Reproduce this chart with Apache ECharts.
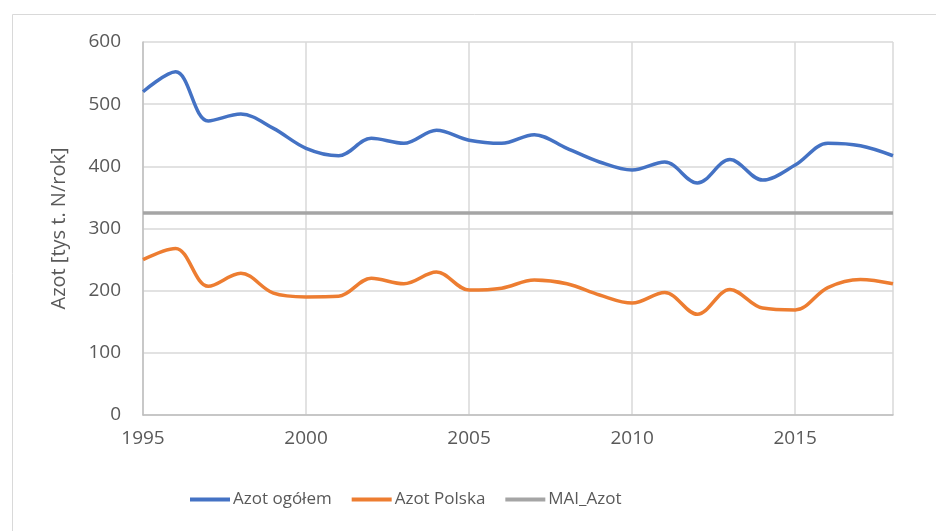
<!DOCTYPE html>
<html>
<head>
<meta charset="utf-8">
<script src="https://cdn.jsdelivr.net/npm/echarts@6/dist/echarts.min.js"></script>
<style>
  html, body { margin: 0; padding: 0; background: #fff; }
  #container { width: 936px; height: 531px; }
</style>
</head>
<body>
<div id="container"></div>
<script>
var years = [1995, 1996, 1997, 1998, 1999, 2000, 2001, 2002, 2003, 2004, 2005, 2006,
             2007, 2008, 2009, 2010, 2011, 2012, 2013, 2014, 2015, 2016, 2017, 2018];
// Azot ogółem
var azotOgolem = [520, 552, 473, 484, 461, 429, 417, 445, 437, 458, 442, 437,
                  451, 429, 407, 394, 407, 373, 411, 378, 402, 437, 433, 417];
// Azot Polska
var azotPolska = [250, 268, 207, 228, 196, 190, 191, 220, 211, 230, 201, 204,
                  217, 211, 193, 180, 197, 162, 202, 172, 169, 205, 218, 211];
// MAI_Azot
var maiAzot = [325, 325, 325, 325, 325, 325, 325, 325, 325, 325, 325, 325,
               325, 325, 325, 325, 325, 325, 325, 325, 325, 325, 325, 325];

var seriesNames = ['Azot ogółem', 'Azot Polska', 'MAI_Azot'];
var seriesColors = ['#4472C4', '#ED7D31', '#A5A5A5'];

function pairs(vals) {
  return years.map(function (y, i) { return [y, vals[i]]; });
}

var dom = document.getElementById('container');
var myChart = echarts.init(dom, null, { renderer: 'canvas' });

var textColor = '#595959';
var fontFam = '"Open Sans", sans-serif';

var option = {
  animation: false,
  color: seriesColors,
  graphic: [{
    type: 'rect',
    left: 10,
    top: 12,
    shape: { width: 940, height: 540 },
    style: { fill: 'none', stroke: '#d9d9d9', lineWidth: 1 },
    silent: true
  }],
  grid: { left: 143, right: 43, top: 42, bottom: 116 },
  legend: {
    bottom: 18,
    left: 185,
    icon: 'rect',
    itemWidth: 40,
    itemHeight: 4,
    itemGap: 20,
    textStyle: { color: textColor, fontSize: 17, fontFamily: fontFam, padding: [0, 0, 0, -2] },
    data: seriesNames
  },
  xAxis: {
    type: 'value',
    min: 1995,
    max: 2018,
    interval: 5,
    axisLine: { show: true, lineStyle: { color: '#bfbfbf', width: 1.5 } },
    axisTick: { show: false },
    axisLabel: {
      color: textColor, fontSize: 19, fontFamily: fontFam, margin: 14,
      showMaxLabel: false,
      formatter: function (v) { return String(v); }
    },
    splitLine: { show: true, lineStyle: { color: '#d9d9d9', width: 1.5 } }
  },
  yAxis: {
    type: 'value',
    min: 0,
    max: 600,
    interval: 100,
    name: 'Azot [tys t. N/rok]',
    nameLocation: 'middle',
    nameGap: 74,
    nameTextStyle: { color: textColor, fontSize: 20, fontFamily: fontFam },
    axisLine: { show: true, lineStyle: { color: '#bfbfbf', width: 1.5 } },
    axisTick: { show: false },
    axisLabel: { color: textColor, fontSize: 19, fontFamily: fontFam, margin: 22 },
    splitLine: { show: true, lineStyle: { color: '#d9d9d9', width: 1.5 } }
  },
  series: [
    {
      name: seriesNames[0],
      type: 'line',
      smooth: 0.35,
      showSymbol: false,
      lineStyle: { width: 3.5, color: seriesColors[0] },
      data: pairs(azotOgolem)
    },
    {
      name: seriesNames[1],
      type: 'line',
      smooth: 0.35,
      showSymbol: false,
      lineStyle: { width: 3.5, color: seriesColors[1] },
      data: pairs(azotPolska)
    },
    {
      name: seriesNames[2],
      type: 'line',
      showSymbol: false,
      lineStyle: { width: 3.5, color: seriesColors[2] },
      data: pairs(maiAzot)
    }
  ]
};

myChart.setOption(option);
window.addEventListener('resize', myChart.resize);
</script>
</body>
</html>
